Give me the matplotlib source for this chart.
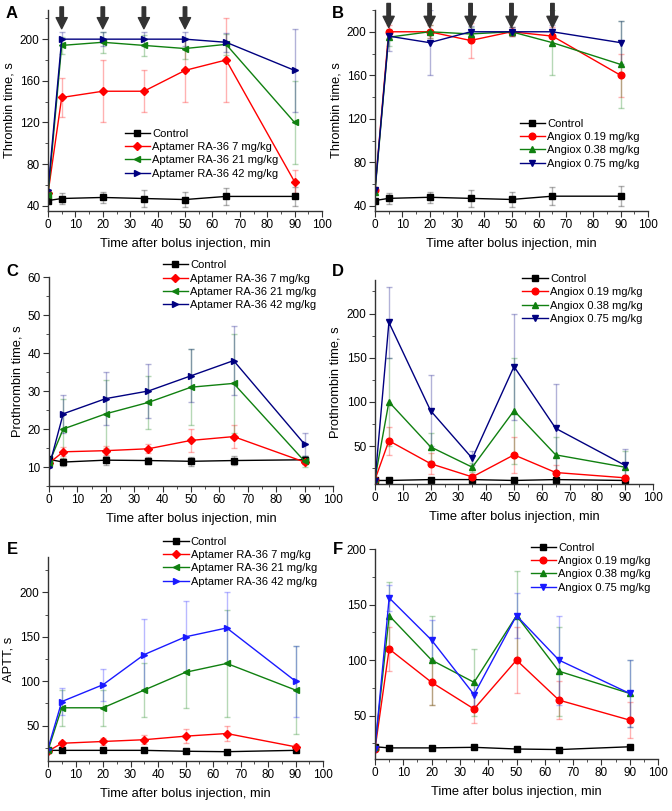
import matplotlib
matplotlib.use("Agg")
import matplotlib.pyplot as plt
from matplotlib.ticker import MultipleLocator

plt.rcParams['font.family'] = ['Liberation Sans', 'DejaVu Sans']

# time points, min
time = [0, 5, 20, 35, 50, 65, 90]

# A: thrombin time, aptamer RA-36
a_ctrl = [45, 47, 48, 47, 46, 49, 49]
a_ctrl_err = [0, 5, 5, 8, 7, 8, 9]
a_7 = [52, 144, 150, 150, 170, 180, 63]
a_7_err = [0, 19, 30, 20, 30, 40, 11]
a_21 = [50, 194, 197, 194, 191, 195, 120]
a_21_err = [0, 8, 10, 10, 10, 10, 40]
a_42 = [55, 200, 200, 200, 200, 197, 170]
a_42_err = [0, 7, 7, 7, 7, 9, 40]

# B: thrombin time, Angiox
b_ctrl = [45, 47, 48, 47, 46, 49, 49]
b_ctrl_err = [0, 5, 5, 8, 7, 8, 9]
b_019 = [55, 200, 200, 192, 200, 196, 160]
b_019_err = [0, 6, 6, 16, 4, 8, 20]
b_038 = [53, 195, 200, 198, 200, 190, 170]
b_038_err = [0, 8, 6, 6, 4, 30, 40]
b_075 = [55, 196, 190, 200, 200, 200, 190]
b_075_err = [0, 14, 30, 5, 4, 6, 20]

# C: prothrombin time, aptamer RA-36
c_ctrl = [12, 11.3, 11.8, 11.7, 11.5, 11.7, 11.9]
c_ctrl_err = [0, 1.0, 1.2, 1.0, 1.2, 1.2, 1.0]
c_7 = [11, 14, 14.3, 14.8, 17, 18, 11.3]
c_7_err = [0, 1.2, 1.2, 1.2, 3, 3, 0.5]
c_21 = [11, 20, 24, 27, 31, 32, 11.5]
c_21_err = [0, 8, 9, 7, 10, 13, 1.5]
c_42 = [10, 24, 28, 30, 34, 38, 16]
c_42_err = [0, 5, 7, 7, 7, 9, 3]

# D: prothrombin time, Angiox
d_ctrl = [11, 11, 12, 12, 11, 12, 11]
d_ctrl_err = [0, 1, 1, 1, 1, 1, 1]
d_019 = [12, 56, 30, 15, 40, 20, 14]
d_019_err = [0, 16, 12, 3, 20, 8, 3]
d_038 = [13, 100, 49, 26, 90, 40, 26]
d_038_err = [0, 50, 16, 5, 60, 20, 18]
d_075 = [10, 190, 90, 36, 140, 70, 28]
d_075_err = [0, 40, 40, 8, 60, 50, 19]

# E: APTT, aptamer RA-36
e_ctrl = [22, 22, 22, 22, 21, 20.5, 22]
e_ctrl_err = [0, 1, 1, 1, 1, 1, 1]
e_7 = [21, 30, 32, 34, 38, 41, 26]
e_7_err = [0, 3, 4, 5, 8, 8, 3]
e_21 = [22, 70, 70, 90, 110, 120, 90]
e_21_err = [0, 20, 20, 30, 40, 60, 50]
e_42 = [24, 77, 96, 130, 150, 160, 100]
e_42_err = [0, 15, 18, 40, 40, 40, 40]

# F: APTT, Angiox
f_ctrl = [22, 21, 21, 21.5, 20, 19.5, 22]
f_ctrl_err = [0, 1, 1, 1, 1, 1, 1]
f_019 = [20, 110, 80, 56, 100, 64, 46]
f_019_err = [0, 20, 20, 13, 30, 17, 16]
f_038 = [22, 140, 100, 80, 140, 90, 70]
f_038_err = [0, 30, 40, 30, 40, 40, 30]
f_075 = [20, 156, 118, 69, 140, 100, 70]
f_075_err = [0, 12, 18, 10, 20, 40, 30]

apt_labels = ['Control', 'Aptamer RA-36 7 mg/kg', 'Aptamer RA-36 21 mg/kg',
              'Aptamer RA-36 42 mg/kg']
ang_labels = ['Control', 'Angiox 0.19 mg/kg', 'Angiox 0.38 mg/kg',
              'Angiox 0.75 mg/kg']
apt_markers = ['s', 'D', '<', '>']
ang_markers = ['s', 'o', '^', 'v']

RED = '#ff0000'
GREEN = '#108010'
NAVY = '#000080'
BLUE = '#1a1aff'

fig = plt.figure(figsize=(6.72, 8.11), dpi=100)


def px_axes(left, top, right, bottom):
    """axes from pixel box of the 672x811 figure"""
    W, H = 672.0, 811.0
    return fig.add_axes([left / W, 1 - bottom / H, (right - left) / W,
                         (bottom - top) / H])


def draw(ax, series, errs, labels, markers, colors):
    for y, e, lab, m, c in zip(series, errs, labels, markers, colors):
        ax.errorbar(time, y, yerr=e, fmt='none', ecolor=c, alpha=0.3,
                    elinewidth=1, capsize=2.5, capthick=1)
    for y, lab, m, c in zip(series, labels, markers, colors):
        ms = 4 if m == 'D' else 4.8
        ax.plot(time, y, color=c, marker=m, ms=ms, lw=1, label=lab)
    ax.set_xlim(0, 100)
    ax.xaxis.set_major_locator(MultipleLocator(10))
    ax.xaxis.set_minor_locator(MultipleLocator(5))
    ax.spines['top'].set_visible(False)
    ax.spines['right'].set_visible(False)
    for s in ('left', 'bottom'):
        ax.spines[s].set_color('#333333')
        ax.spines[s].set_linewidth(1)
    ax.tick_params(which='both', direction='out', color='#333333',
                   labelsize=8.5, pad=2)
    ax.tick_params(which='major', length=4)
    ax.tick_params(which='minor', length=2.5)
    ax.set_xlabel('Time after bolus injection, min', fontsize=9.3, labelpad=5)


def legend(ax, x, y):
    ax.legend(loc='upper left', bbox_to_anchor=(x, y), frameon=False,
              fontsize=8, handlelength=2.3, handletextpad=0.2,
              labelspacing=0.3, borderaxespad=0, borderpad=0)


def arrows(ax, xs, y0, y1):
    for x in xs:
        ax.annotate('', xy=(x, y1), xytext=(x, y0), annotation_clip=False,
                    arrowprops=dict(facecolor='#333333', edgecolor='#333333',
                                    width=2.5, headwidth=8, headlength=8))


ctl = 'black'

# A
ax = px_axes(48, 10, 322, 211)
draw(ax, [a_ctrl, a_7, a_21, a_42], [a_ctrl_err, a_7_err, a_21_err, a_42_err],
     apt_labels, apt_markers, [ctl, RED, GREEN, NAVY])
ax.set_ylim(35, 228)
ax.yaxis.set_major_locator(MultipleLocator(40))
ax.yaxis.set_minor_locator(MultipleLocator(20))
ax.set_ylabel('Thrombin time, s', fontsize=9.3)
ax.yaxis.set_label_coords(-0.12, 0.5)
arrows(ax, [5, 20, 35, 50], 231, 210)
legend(ax, 0.28, 0.41)

# B
ax = px_axes(375, 10, 648, 211)
draw(ax, [b_ctrl, b_019, b_038, b_075], [b_ctrl_err, b_019_err, b_038_err, b_075_err],
     ang_labels, ang_markers, [ctl, RED, GREEN, NAVY])
ax.set_ylim(35.4, 220)
ax.yaxis.set_major_locator(MultipleLocator(40))
ax.yaxis.set_minor_locator(MultipleLocator(20))
ax.set_ylabel('Thrombin time, s', fontsize=9.3)
ax.yaxis.set_label_coords(-0.12, 0.5)
arrows(ax, [5, 20, 35, 50, 65], 226, 204)
legend(ax, 0.53, 0.46)

# C
ax = px_axes(49, 277, 333, 486)
draw(ax, [c_ctrl, c_7, c_21, c_42], [c_ctrl_err, c_7_err, c_21_err, c_42_err],
     apt_labels, apt_markers, [ctl, RED, GREEN, NAVY])
ax.set_ylim(5, 60)
ax.yaxis.set_major_locator(MultipleLocator(10))
ax.yaxis.set_minor_locator(MultipleLocator(5))
ax.set_ylabel('Prothrombin time, s', fontsize=9.3)
ax.yaxis.set_label_coords(-0.09, 0.5)
legend(ax, 0.40, 1.08)

# D
ax = px_axes(375, 280, 653, 484)
draw(ax, [d_ctrl, d_019, d_038, d_075], [d_ctrl_err, d_019_err, d_038_err, d_075_err],
     ang_labels, ang_markers, [ctl, RED, GREEN, NAVY])
ax.set_ylim(7, 238)
ax.yaxis.set_major_locator(MultipleLocator(50))
ax.yaxis.set_minor_locator(MultipleLocator(25))
ax.set_ylabel('Prothrombin time, s', fontsize=9.3)
ax.yaxis.set_label_coords(-0.12, 0.5)
legend(ax, 0.53, 1.03)

# E
ax = px_axes(48, 557, 323, 761)
draw(ax, [e_ctrl, e_7, e_21, e_42], [e_ctrl_err, e_7_err, e_21_err, e_42_err],
     apt_labels, apt_markers, [ctl, RED, GREEN, BLUE])
ax.set_ylim(10, 240)
ax.yaxis.set_major_locator(MultipleLocator(50))
ax.yaxis.set_minor_locator(MultipleLocator(25))
ax.set_ylabel('APTT, s', fontsize=9.3)
ax.yaxis.set_label_coords(-0.12, 0.5)
legend(ax, 0.418, 1.10)

# F
ax = px_axes(375, 549, 658, 759)
draw(ax, [f_ctrl, f_019, f_038, f_075], [f_ctrl_err, f_019_err, f_038_err, f_075_err],
     ang_labels, ang_markers, [ctl, RED, GREEN, BLUE])
ax.set_ylim(11, 200)
ax.yaxis.set_major_locator(MultipleLocator(50))
ax.yaxis.set_minor_locator(MultipleLocator(25))
legend(ax, 0.55, 1.03)

# panel letters
for letter, x, y in [('A', 12, 14), ('B', 338, 14), ('C', 12, 271),
                     ('D', 338, 271), ('E', 12, 549), ('F', 338, 549)]:
    fig.text(x / 672, 1 - y / 811, letter, fontsize=12, fontweight='bold',
             ha='center', va='center')

fig.savefig('out.png', dpi=100)
